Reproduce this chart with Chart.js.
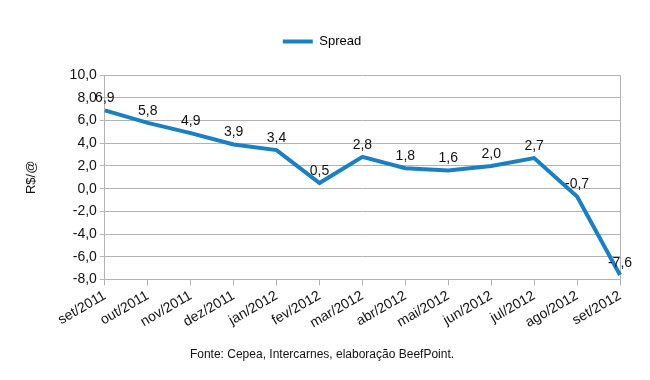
<!DOCTYPE html>
<html><head><meta charset="utf-8">
<script src="https://cdn.jsdelivr.net/npm/chart.js@4/dist/chart.umd.min.js"></script>
<style>html,body{margin:0;padding:0;background:#fff}#wrap{width:650px;height:380px}</style>
</head><body><div id="wrap"><canvas id="c"></canvas></div>
<script>
const categories = ['set/2011','out/2011','nov/2011','dez/2011','jan/2012','fev/2012','mar/2012','abr/2012','mai/2012','jun/2012','jul/2012','ago/2012','set/2012'];
const spread = [6.9, 5.8, 4.9, 3.9, 3.4, 0.5, 2.8, 1.8, 1.6, 2.0, 2.7, -0.7, -7.6];
const yMin = -8, yMax = 10, yStep = 2;
const seriesName = 'Spread';
const yTitle = 'R$/@';
const caption = 'Fonte: Cepea, Intercarnes, elaboração BeefPoint.';

const fmt = v => v.toFixed(1).replace('.', ',');
const FONT = "'Liberation Sans', Arial, sans-serif";
const LINE = '#1b7fc4';
const GRID = '#b3b3b3';

const labelPlugin = {
  id: 'valueLabels',
  afterDatasetsDraw(chart) {
    const ctx = chart.ctx;
    const meta = chart.getDatasetMeta(0);
    ctx.save();
    ctx.font = "14px " + FONT;
    ctx.fillStyle = '#111';
    ctx.textAlign = 'center';
    ctx.textBaseline = 'bottom';
    meta.data.forEach((pt, i) => {
      ctx.fillText(fmt(spread[i]), pt.x, pt.y - 5);
    });
    ctx.restore();
  }
};

new Chart(document.getElementById('c'), {
  type: 'line',
  data: {
    labels: categories,
    datasets: [{
      label: seriesName,
      data: spread,
      borderColor: LINE,
      backgroundColor: LINE,
      borderWidth: 4,
      pointRadius: 0,
      tension: 0,
      fill: false
    }]
  },
  options: {
    responsive: true,
    maintainAspectRatio: false,
    animation: false,
    layout: { padding: { left: 24, right: 30, top: 25, bottom: 18 } },
    plugins: {
      legend: {
        position: 'top',
        weight: 3000,
        labels: {
          boxWidth: 30, boxHeight: 4, font: { family: FONT, size: 13 }, color: '#111', padding: 10,
          generateLabels: chart => chart.data.datasets.map((d, i) => ({
            text: d.label, fillStyle: LINE, strokeStyle: LINE, lineWidth: 0, datasetIndex: i, hidden: false
          }))
        }
      },
      subtitle: {
        display: true, position: 'top', text: ' ',
        font: { size: 1 }, padding: { top: 16, bottom: 0 }
      },
      title: {
        display: true, position: 'bottom', text: caption,
        font: { family: FONT, size: 12, weight: 'normal' }, color: '#111', padding: { top: 14, bottom: 0 }
      },
      tooltip: { enabled: false }
    },
    scales: {
      x: {
        offset: false,
        grid: {
          display: true, drawOnChartArea: true, drawTicks: true, tickLength: 6,
          color: c => (c.index === categories.length - 1 ? GRID : 'rgba(0,0,0,0)'),
          tickColor: GRID
        },
        border: { color: GRID },
        ticks: { minRotation: 30, maxRotation: 30, autoSkip: false, font: { family: FONT, size: 14 }, color: '#111', padding: 2 }
      },
      y: {
        min: yMin, max: yMax,
        grid: { color: GRID, tickLength: 5 },
        border: { color: GRID },
        ticks: { stepSize: yStep, callback: v => fmt(v), font: { family: FONT, size: 14 }, color: '#111', padding: 3 },
        title: { display: true, text: yTitle, font: { family: FONT, size: 13 }, color: '#111', padding: { top: 0, bottom: 27 } }
      }
    }
  },
  plugins: [labelPlugin]
});
</script></body></html>
